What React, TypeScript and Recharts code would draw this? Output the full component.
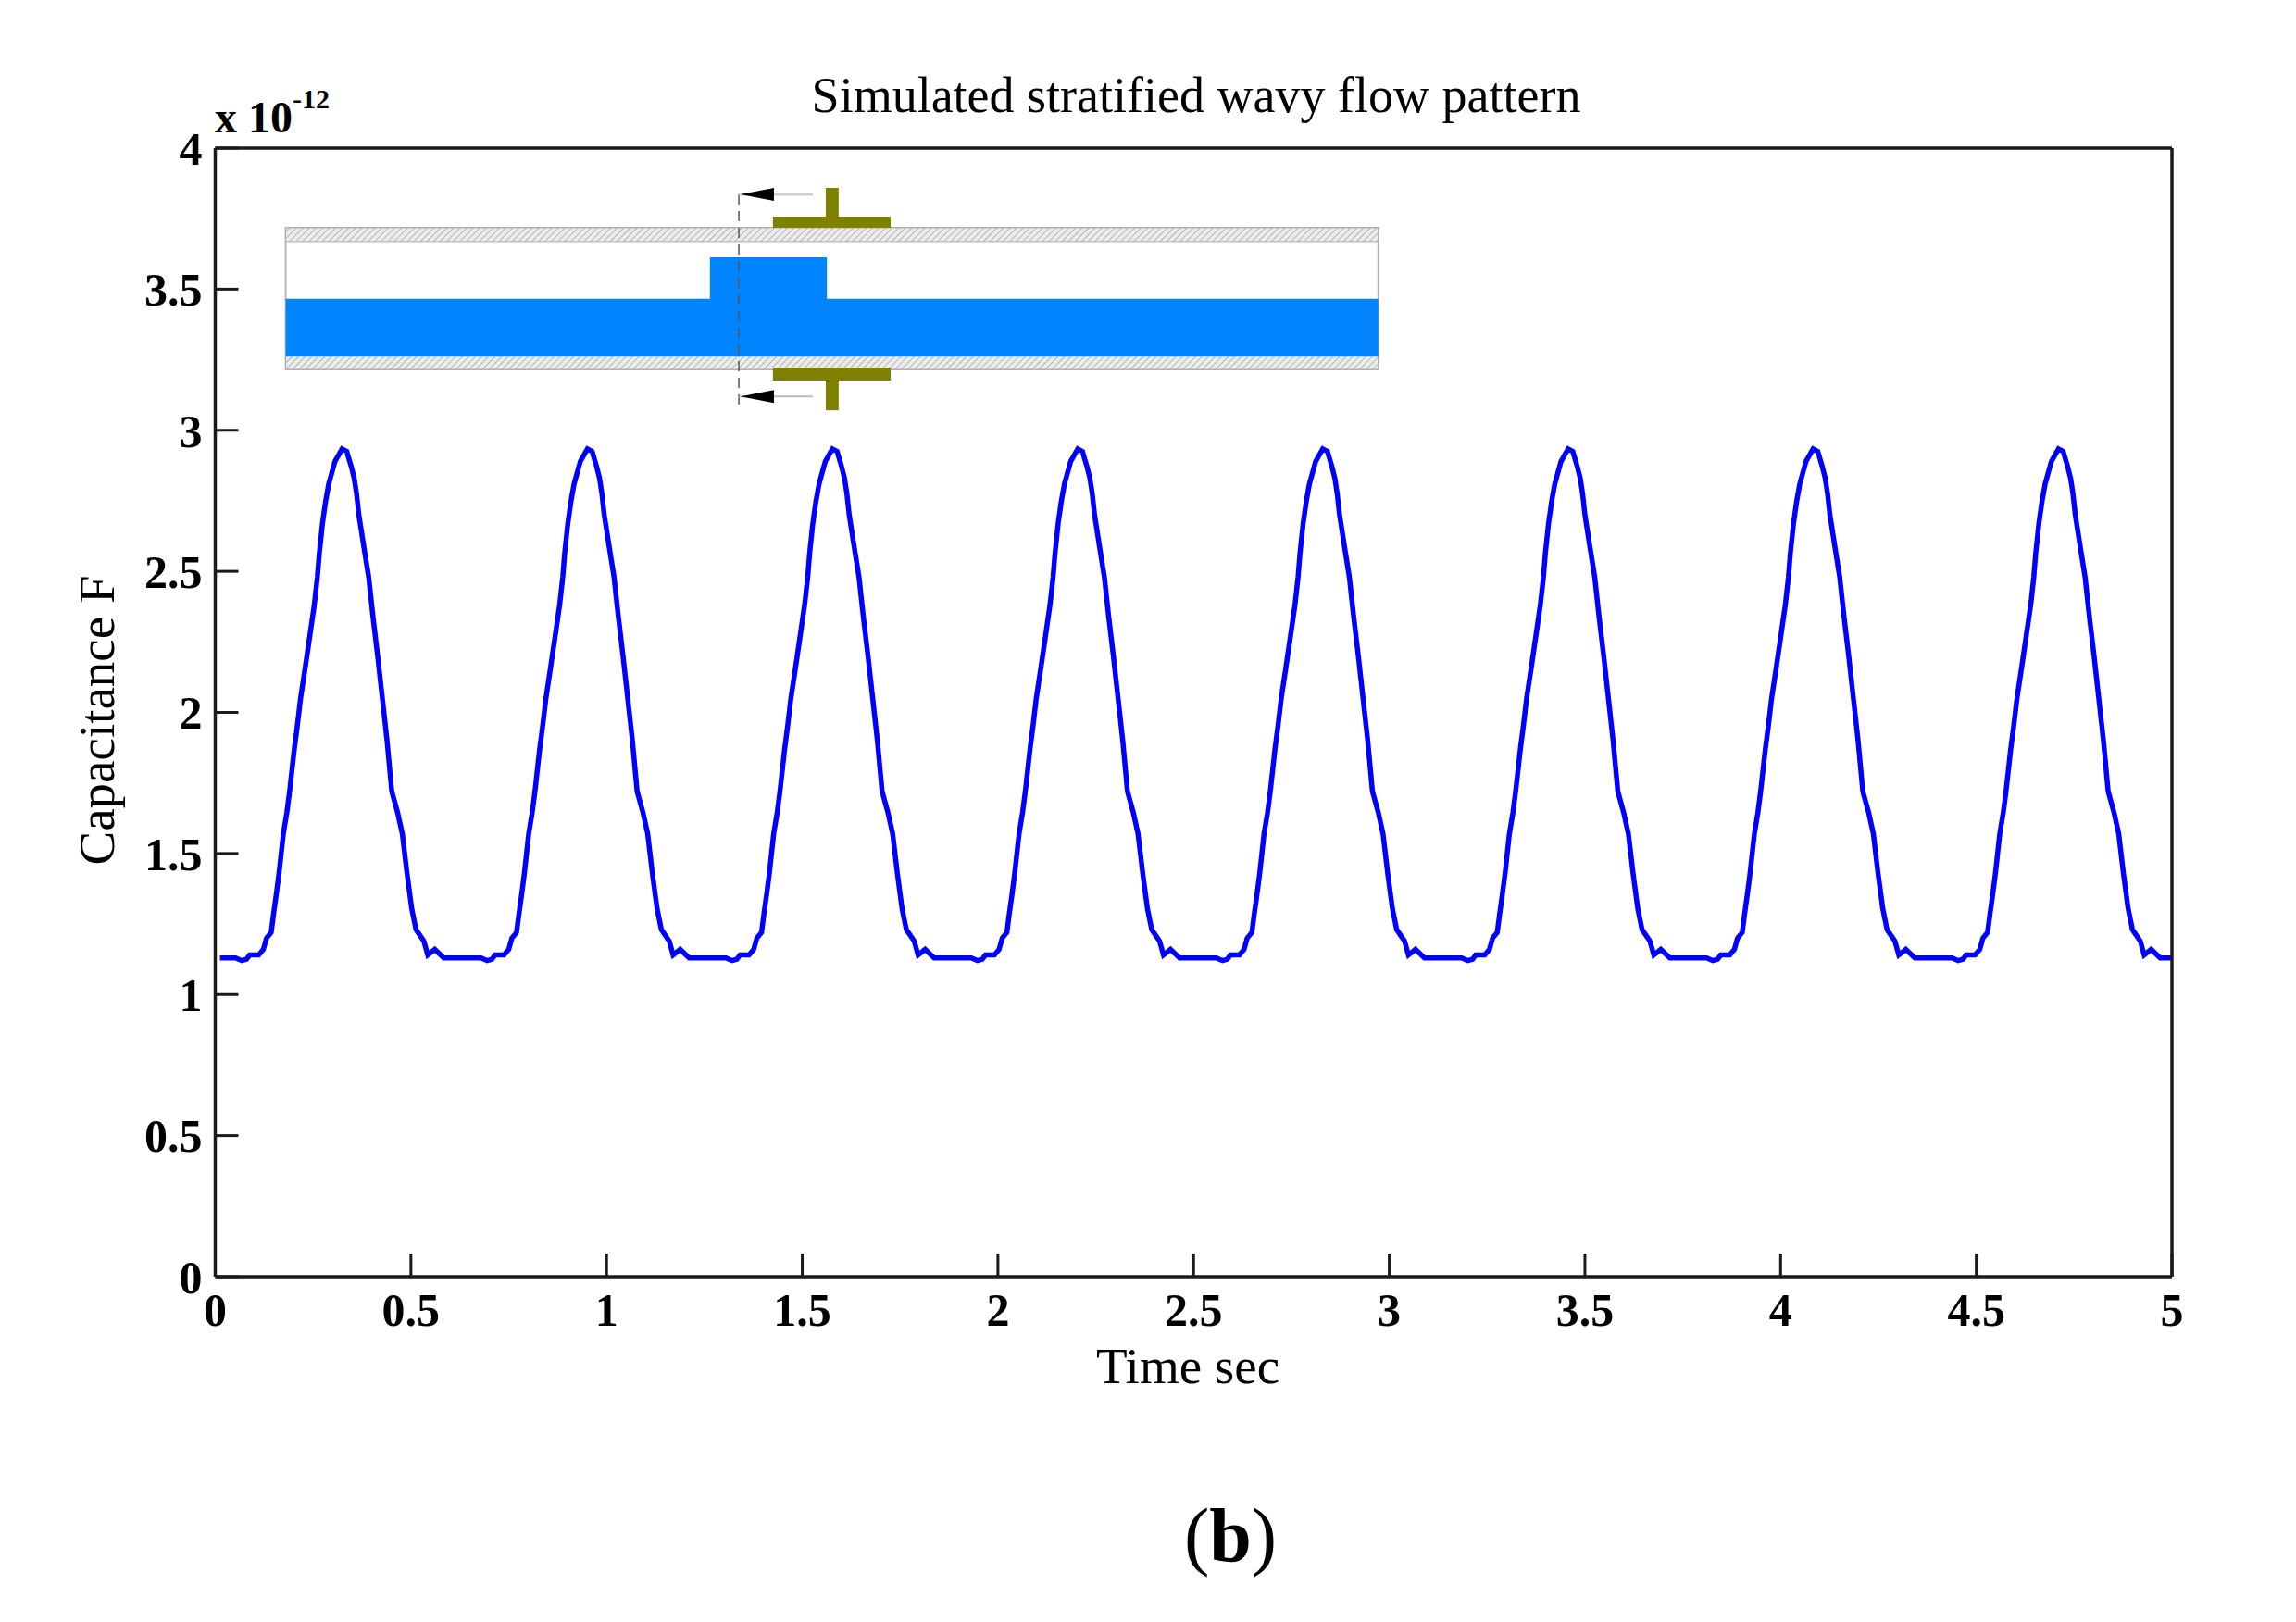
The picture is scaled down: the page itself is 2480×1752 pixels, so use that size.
import { LineChart, Line, XAxis, YAxis, ReferenceArea, ReferenceLine, ReferenceDot } from "recharts";

const serif = "'Liberation Serif', serif";

// Time in sec, one row per pulse
const timeSec = [
	0.012, 0.052, 0.068, 0.080, 0.088, 0.111, 0.123, 0.131, 0.143, 0.149, 0.156, 0.163, 0.174, 0.183, 0.190, 0.202, 0.210, 0.218, 0.230, 0.241, 0.253, 0.261, 0.266, 0.274, 0.282, 0.290, 0.306, 0.324, 0.336, 0.347, 0.355, 0.361, 0.367, 0.382, 0.392, 0.403, 0.415, 0.427, 0.439, 0.451, 0.466, 0.478, 0.490, 0.502, 0.513, 0.533, 0.543, 0.561, 0.584, 0.620,
	0.639, 0.679, 0.695, 0.707, 0.715, 0.738, 0.750, 0.758, 0.770, 0.776, 0.783, 0.790, 0.801, 0.810, 0.817, 0.829, 0.837, 0.845, 0.857, 0.868, 0.880, 0.888, 0.893, 0.901, 0.909, 0.917, 0.933, 0.951, 0.963, 0.974, 0.982, 0.988, 0.994, 1.009, 1.019, 1.030, 1.042, 1.054, 1.066, 1.078, 1.093, 1.105, 1.117, 1.129, 1.140, 1.160, 1.170, 1.188, 1.211, 1.247,
	1.265, 1.305, 1.321, 1.333, 1.341, 1.364, 1.376, 1.384, 1.396, 1.402, 1.409, 1.416, 1.427, 1.436, 1.443, 1.455, 1.463, 1.471, 1.483, 1.494, 1.506, 1.514, 1.519, 1.527, 1.535, 1.543, 1.559, 1.577, 1.589, 1.600, 1.608, 1.614, 1.620, 1.635, 1.645, 1.656, 1.668, 1.680, 1.692, 1.704, 1.719, 1.731, 1.743, 1.755, 1.766, 1.786, 1.796, 1.814, 1.837, 1.873,
	1.892, 1.932, 1.948, 1.960, 1.968, 1.991, 2.003, 2.011, 2.023, 2.029, 2.036, 2.043, 2.054, 2.063, 2.070, 2.082, 2.090, 2.098, 2.110, 2.121, 2.133, 2.141, 2.146, 2.154, 2.162, 2.170, 2.186, 2.204, 2.216, 2.227, 2.235, 2.241, 2.247, 2.262, 2.272, 2.283, 2.295, 2.307, 2.319, 2.331, 2.346, 2.358, 2.370, 2.382, 2.393, 2.413, 2.423, 2.441, 2.464, 2.500,
	2.518, 2.558, 2.574, 2.586, 2.594, 2.617, 2.629, 2.637, 2.649, 2.655, 2.662, 2.669, 2.680, 2.689, 2.696, 2.708, 2.716, 2.724, 2.736, 2.747, 2.759, 2.767, 2.772, 2.780, 2.788, 2.796, 2.812, 2.830, 2.842, 2.853, 2.861, 2.867, 2.873, 2.888, 2.898, 2.909, 2.921, 2.933, 2.945, 2.957, 2.972, 2.984, 2.996, 3.008, 3.019, 3.039, 3.049, 3.067, 3.090, 3.126,
	3.145, 3.185, 3.201, 3.213, 3.221, 3.244, 3.256, 3.264, 3.276, 3.282, 3.289, 3.296, 3.307, 3.316, 3.323, 3.335, 3.343, 3.351, 3.363, 3.374, 3.386, 3.394, 3.399, 3.407, 3.415, 3.423, 3.439, 3.457, 3.469, 3.480, 3.488, 3.494, 3.500, 3.515, 3.525, 3.536, 3.548, 3.560, 3.572, 3.584, 3.599, 3.611, 3.623, 3.635, 3.646, 3.666, 3.676, 3.694, 3.717, 3.753,
	3.771, 3.811, 3.827, 3.839, 3.847, 3.870, 3.882, 3.890, 3.902, 3.908, 3.915, 3.922, 3.933, 3.942, 3.949, 3.961, 3.969, 3.977, 3.989, 4.000, 4.012, 4.020, 4.025, 4.033, 4.041, 4.049, 4.065, 4.083, 4.095, 4.106, 4.114, 4.120, 4.126, 4.141, 4.151, 4.162, 4.174, 4.186, 4.198, 4.210, 4.225, 4.237, 4.249, 4.261, 4.272, 4.292, 4.302, 4.320, 4.343, 4.379,
	4.398, 4.438, 4.454, 4.466, 4.474, 4.497, 4.509, 4.517, 4.529, 4.535, 4.542, 4.549, 4.560, 4.569, 4.576, 4.588, 4.596, 4.604, 4.616, 4.627, 4.639, 4.647, 4.652, 4.660, 4.668, 4.676, 4.692, 4.710, 4.722, 4.733, 4.741, 4.747, 4.753, 4.768, 4.778, 4.789, 4.801, 4.813, 4.825, 4.837, 4.852, 4.864, 4.876, 4.888, 4.899, 4.919, 4.929, 4.947, 4.970, 5.000,
];

// capacitance in units of 1e-12 F
const capacitance = [
	1.13, 1.13, 1.12, 1.125, 1.14, 1.14, 1.16, 1.20, 1.22, 1.285, 1.355, 1.43, 1.57, 1.645, 1.72, 1.87, 1.955, 2.05, 2.16, 2.265, 2.38, 2.48, 2.565, 2.67, 2.748, 2.81, 2.89, 2.934, 2.925, 2.874, 2.83, 2.776, 2.70, 2.567, 2.48, 2.34, 2.20, 2.05, 1.90, 1.72, 1.645, 1.57, 1.43, 1.305, 1.23, 1.19, 1.14, 1.16, 1.13, 1.13,
	1.13, 1.13, 1.12, 1.125, 1.14, 1.14, 1.16, 1.20, 1.22, 1.285, 1.355, 1.43, 1.57, 1.645, 1.72, 1.87, 1.955, 2.05, 2.16, 2.265, 2.38, 2.48, 2.565, 2.67, 2.748, 2.81, 2.89, 2.934, 2.925, 2.874, 2.83, 2.776, 2.70, 2.567, 2.48, 2.34, 2.20, 2.05, 1.90, 1.72, 1.645, 1.57, 1.43, 1.305, 1.23, 1.19, 1.14, 1.16, 1.13, 1.13,
	1.13, 1.13, 1.12, 1.125, 1.14, 1.14, 1.16, 1.20, 1.22, 1.285, 1.355, 1.43, 1.57, 1.645, 1.72, 1.87, 1.955, 2.05, 2.16, 2.265, 2.38, 2.48, 2.565, 2.67, 2.748, 2.81, 2.89, 2.934, 2.925, 2.874, 2.83, 2.776, 2.70, 2.567, 2.48, 2.34, 2.20, 2.05, 1.90, 1.72, 1.645, 1.57, 1.43, 1.305, 1.23, 1.19, 1.14, 1.16, 1.13, 1.13,
	1.13, 1.13, 1.12, 1.125, 1.14, 1.14, 1.16, 1.20, 1.22, 1.285, 1.355, 1.43, 1.57, 1.645, 1.72, 1.87, 1.955, 2.05, 2.16, 2.265, 2.38, 2.48, 2.565, 2.67, 2.748, 2.81, 2.89, 2.934, 2.925, 2.874, 2.83, 2.776, 2.70, 2.567, 2.48, 2.34, 2.20, 2.05, 1.90, 1.72, 1.645, 1.57, 1.43, 1.305, 1.23, 1.19, 1.14, 1.16, 1.13, 1.13,
	1.13, 1.13, 1.12, 1.125, 1.14, 1.14, 1.16, 1.20, 1.22, 1.285, 1.355, 1.43, 1.57, 1.645, 1.72, 1.87, 1.955, 2.05, 2.16, 2.265, 2.38, 2.48, 2.565, 2.67, 2.748, 2.81, 2.89, 2.934, 2.925, 2.874, 2.83, 2.776, 2.70, 2.567, 2.48, 2.34, 2.20, 2.05, 1.90, 1.72, 1.645, 1.57, 1.43, 1.305, 1.23, 1.19, 1.14, 1.16, 1.13, 1.13,
	1.13, 1.13, 1.12, 1.125, 1.14, 1.14, 1.16, 1.20, 1.22, 1.285, 1.355, 1.43, 1.57, 1.645, 1.72, 1.87, 1.955, 2.05, 2.16, 2.265, 2.38, 2.48, 2.565, 2.67, 2.748, 2.81, 2.89, 2.934, 2.925, 2.874, 2.83, 2.776, 2.70, 2.567, 2.48, 2.34, 2.20, 2.05, 1.90, 1.72, 1.645, 1.57, 1.43, 1.305, 1.23, 1.19, 1.14, 1.16, 1.13, 1.13,
	1.13, 1.13, 1.12, 1.125, 1.14, 1.14, 1.16, 1.20, 1.22, 1.285, 1.355, 1.43, 1.57, 1.645, 1.72, 1.87, 1.955, 2.05, 2.16, 2.265, 2.38, 2.48, 2.565, 2.67, 2.748, 2.81, 2.89, 2.934, 2.925, 2.874, 2.83, 2.776, 2.70, 2.567, 2.48, 2.34, 2.20, 2.05, 1.90, 1.72, 1.645, 1.57, 1.43, 1.305, 1.23, 1.19, 1.14, 1.16, 1.13, 1.13,
	1.13, 1.13, 1.12, 1.125, 1.14, 1.14, 1.16, 1.20, 1.22, 1.285, 1.355, 1.43, 1.57, 1.645, 1.72, 1.87, 1.955, 2.05, 2.16, 2.265, 2.38, 2.48, 2.565, 2.67, 2.748, 2.81, 2.89, 2.934, 2.925, 2.874, 2.83, 2.776, 2.70, 2.567, 2.48, 2.34, 2.20, 2.05, 1.90, 1.72, 1.645, 1.57, 1.43, 1.305, 1.23, 1.19, 1.14, 1.16, 1.13, 1.13,
];

const xTicks = [0, 0.5, 1, 1.5, 2, 2.5, 3, 3.5, 4, 4.5, 5];
const yTicks = [0, 0.5, 1, 1.5, 2, 2.5, 3, 3.5, 4];

const data = timeSec.map((t, i) => ({ t, c: capacitance[i] }));

const tickStyle = { fontFamily: serif, fontSize: 50, fontWeight: 700, fill: "#000" };
const axisLine = { stroke: "#1a1a1a", strokeWidth: 3.5 };
const tickLine = { stroke: "#1a1a1a", strokeWidth: 3 };
const olive = "#808000";
const water = "#0084ff";

// small arrow head used on the section marks of the inset
const ArrowHead = (p: any) => (
	<path d={`M ${p.cx - 18} ${p.cy} L ${p.cx + 18} ${p.cy - 7} L ${p.cx + 18} ${p.cy + 7} Z`} fill="#000" />
);

export default function App() {
	return (
		<div style={{ position: "absolute", left: 0, top: 0, width: 2480, height: 1752, background: "#fff" }}>
			<LineChart width={2480} height={1752} data={data} margin={{ top: 159, right: 133, left: 0, bottom: 273 }}>
				<defs>
					<pattern id="hatch" width="5" height="5" patternUnits="userSpaceOnUse" patternTransform="rotate(45)">
						<rect width="5" height="5" fill="#ececec" />
						<line x1="0" y1="0" x2="0" y2="5" stroke="#b4b4b4" strokeWidth="2" />
					</pattern>
				</defs>
				<XAxis dataKey="t" type="number" domain={[0, 5]} ticks={xTicks} height={100} tick={tickStyle} tickSize={-25} tickMargin={42} axisLine={axisLine} tickLine={tickLine} interval={0} />
				<YAxis type="number" domain={[0, 4]} ticks={yTicks} width={232.5} tick={tickStyle} tickSize={-25} tickMargin={39} axisLine={axisLine} tickLine={tickLine} interval={0} />
				<XAxis xAxisId="top" orientation="top" dataKey="t" type="number" domain={[0, 5]} ticks={xTicks} height={1} tick={false} tickSize={-25} axisLine={axisLine} tickLine={tickLine} />
				<YAxis yAxisId="right" orientation="right" type="number" domain={[0, 4]} ticks={yTicks} width={1} tick={false} tickSize={-25} axisLine={axisLine} tickLine={tickLine} />

				{/* inset: pipe section with the wave and the electrodes */}
				<ReferenceArea x1={0.18} x2={2.972} y1={3.216} y2={3.718} fill="#fff" fillOpacity={1} stroke="#b8b8b8" strokeWidth={2} />
				<ReferenceArea x1={0.18} x2={2.972} y1={3.669} y2={3.718} fill="url(#hatch)" fillOpacity={1} stroke="#aaa" strokeWidth={1} />
				<ReferenceArea x1={0.18} x2={2.972} y1={3.216} y2={3.262} fill="url(#hatch)" fillOpacity={1} stroke="#aaa" strokeWidth={1} />
				<ReferenceArea x1={0.18} x2={2.972} y1={3.262} y2={3.466} fill={water} fillOpacity={1} />
				<ReferenceArea x1={1.264} x2={1.563} y1={3.46} y2={3.613} fill={water} fillOpacity={1} />
				<ReferenceArea x1={1.425} x2={1.726} y1={3.718} y2={3.757} fill={olive} fillOpacity={1} />
				<ReferenceArea x1={1.56} x2={1.593} y1={3.75} y2={3.859} fill={olive} fillOpacity={1} />
				<ReferenceArea x1={1.425} x2={1.726} y1={3.176} y2={3.222} fill={olive} fillOpacity={1} />
				<ReferenceArea x1={1.56} x2={1.593} y1={3.071} y2={3.18} fill={olive} fillOpacity={1} />
				<ReferenceLine segment={[{ x: 1.338, y: 3.091 }, { x: 1.338, y: 3.846 }]} stroke="#555" strokeWidth={1.5} strokeDasharray="11 7" />
				<ReferenceLine segment={[{ x: 1.338, y: 3.836 }, { x: 1.527, y: 3.836 }]} stroke="#d0d0d0" strokeWidth={3} />
				<ReferenceLine segment={[{ x: 1.338, y: 3.12 }, { x: 1.527, y: 3.12 }]} stroke="#bbb" strokeWidth={2} />
				<ReferenceDot x={1.385} y={3.836} shape={ArrowHead} />
				<ReferenceDot x={1.385} y={3.12} shape={ArrowHead} />

				<Line dataKey="c" stroke="#0000ff" strokeWidth={5.5} dot={false} isAnimationActive={false} />

				<text x={1292} y={121} textAnchor="middle" fontFamily={serif} fontSize={54} fill="#000">Simulated stratified wavy flow pattern</text>
				<text x={232} y={143} fontFamily={serif} fontSize={48} fontWeight={700} fill="#000">x 10<tspan dy={-26} fontSize={30}>-12</tspan></text>
				<text x={1283} y={1494} textAnchor="middle" fontFamily={serif} fontSize={55} fill="#000">Time sec</text>
				<text transform="translate(123 778) rotate(-90)" textAnchor="middle" fontFamily={serif} fontSize={55} fill="#000">Capacitance F</text>
				<text x={1329} y={1686} textAnchor="middle" fontFamily={serif} fontSize={82} fill="#000">(<tspan fontWeight={700}>b</tspan>)</text>
			</LineChart>
		</div>
	);
}
